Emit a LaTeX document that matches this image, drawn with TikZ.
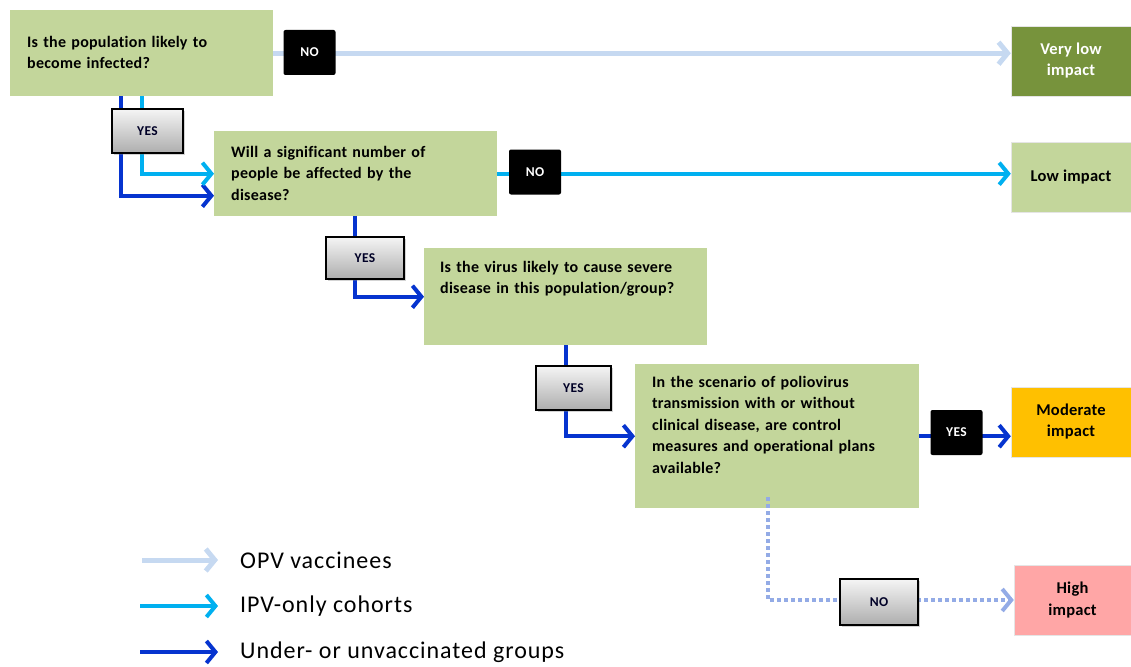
\documentclass[tikz,border=0pt]{standalone}
\usepackage{fontspec}
\setmainfont{Carlito}[Ligatures=NoCommon]
\usetikzlibrary{arrows.meta,shadows}
\definecolor{qgreen}{HTML}{C3D69B}
\definecolor{vlowgreen}{HTML}{77933C}
\definecolor{modorange}{HTML}{FFC000}
\definecolor{highpink}{HTML}{FFA6A6}
\definecolor{opvblue}{HTML}{C6D9F1}
\definecolor{ipvcyan}{HTML}{00B0F0}
\definecolor{underblue}{HTML}{0634CF}
\definecolor{dotblue}{HTML}{93ABE6}

\begin{document}
\begin{tikzpicture}[x=1pt,y=-1pt,
        qbox/.style={fill=qgreen, anchor=north west, inner ysep=0pt, inner xsep=17pt, align=left,
            font=\fontsize{16}{21.5}\selectfont\addfontfeatures{LetterSpace=1.5}\bfseries},
        impact/.style={minimum width=120pt, minimum height=70pt, inner sep=0pt, align=center,
            draw=black!10, font=\fontsize{16.5}{21}\selectfont\addfontfeatures{LetterSpace=1.5}\bfseries},
        nobox/.style={fill=black, text=white, rounded corners=2pt, minimum width=52pt,
            minimum height=45pt, inner sep=0pt,
            font=\fontsize{13.5}{15}\selectfont\addfontfeatures{LetterSpace=3}\bfseries},
        yesbox/.style={draw=black, line width=1.2pt, top color=black!4, bottom color=black!32,
            drop shadow={opacity=0.35, shadow xshift=2pt, shadow yshift=-2pt},
            minimum width=75pt, minimum height=44pt, inner sep=0pt, text=black!85!blue,
            font=\fontsize{13.5}{15}\selectfont\addfontfeatures{LetterSpace=3}\bfseries},
        tip/.style={-{Straight Barb[length=9pt,width=22pt]}},
        opv/.style={tip, line width=5pt, opvblue},
        ipv/.style={tip, line width=4pt, ipvcyan},
        under/.style={tip, line width=4pt, underblue},
        dotpath/.style={tip, line width=4pt, dotblue, dash pattern=on 4pt off 3pt},
        legend/.style={anchor=west, inner sep=0pt,
            font=\fontsize{24}{28}\selectfont\addfontfeatures{LetterSpace=4}}]
    \useasboundingbox (0,0) rectangle (1131,666);

    \node[qbox, text width=229pt, text height=37pt, text depth=49pt] (q1) at (10,10)
        {Is the population likely to\\become infected?};
    \node[qbox, text width=249pt, text height=26pt, text depth=59pt] (q2) at (214,131)
        {Will a significant number of\\people be affected by the\\disease?};
    \node[qbox, inner xsep=16pt, text width=251pt, text height=24pt, text depth=73pt] (q3) at (424,248)
        {Is the virus likely to cause severe\\disease in this population/group?};
    \node[qbox, text width=250pt, text height=23pt, text depth=121pt] (q4) at (635,364)
        {In the scenario of poliovirus\\transmission with or without\\clinical disease, are control\\measures and operational plans\\available?};

    \node[impact, fill=vlowgreen, text=white] (vlow) at (1071,61) {Very low\\impact};
    \node[impact, fill=qgreen] (low) at (1071,177.5) {Low impact};
    \node[impact, fill=modorange] (mod) at (1071,422) {Moderate\\impact};
    \node[impact, fill=highpink, minimum width=117pt] (high) at (1072.5,600) {High\\impact};

    \draw[opv] (q1.east) -- (q1.east -| vlow.west);
    \draw[ipv] (q2.east) -- (q2.east -| low.west);
    \draw[under] (q4.east) -- (q4.east -| mod.west);
    \draw[under] ([xshift=111pt]q1.south west) |- ([yshift=-22pt]q2.west);
    \draw[ipv] ([xshift=132pt]q1.south west) |- (q2.west);
    \draw[under] ([xshift=141pt]q2.south west) |- (q3.west);
    \draw[under] ([xshift=142pt]q3.south west) |- (q4.west);
    \draw[dotpath] ([xshift=133pt,yshift=11pt]q4.south west) |- (high.west);

    \node[nobox] (no1) at (309.5,52.5) {NO};
    \node[nobox] (no2) at (535,172) {NO};
    \node[nobox] (yes4) at (956.5,432.5) {YES};
    \node[yesbox, minimum width=71pt] (yes1) at (147.5,131) {YES};
    \node[yesbox, minimum width=78pt, minimum height=42pt] (yes2) at (365,258) {YES};
    \node[yesbox] (yes3) at (573.5,388) {YES};
    \node[yesbox, minimum width=78pt, minimum height=46pt] (no3) at (879,602) {NO};

    \node[legend] (lopv) at (240,560) {OPV vaccinees};
    \node[legend] (lipv) at (240,606) {IPV-only cohorts};
    \node[legend] (lunder) at (240,652) {Under- or unvaccinated groups};
    \coordinate (sopv) at (142,560);
    \coordinate (sipv) at (140,606);
    \coordinate (sunder) at (140,652);
    \draw[opv] (sopv) -- ([xshift=-22pt]lopv.west);
    \draw[ipv] (sipv) -- ([xshift=-22pt]lipv.west);
    \draw[under] (sunder) -- ([xshift=-22pt]lunder.west);
\end{tikzpicture}
\end{document}
